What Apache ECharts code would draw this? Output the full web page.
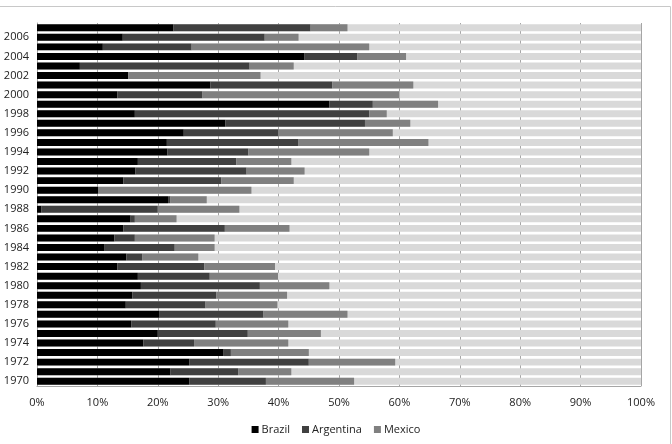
<!DOCTYPE html>
<html><head><meta charset="utf-8">
<script src="https://cdn.jsdelivr.net/npm/echarts@6/dist/echarts.min.js"></script>
<style>html,body{margin:0;padding:0;background:#fff}#c{width:672px;height:444px}</style>
</head><body><div id="c"></div>
<script>
var years = ['1970','1971','1972','1973','1974','1975','1976','1977','1978','1979','1980','1981','1982','1983','1984','1985','1986','1987','1988','1989','1990','1991','1992','1993','1994','1995','1996','1997','1998','1999','2000','2001','2002','2003','2004','2005','2006','2007'];
// shares in percent
var brazil    = [25.2,22.1,25.2,30.9,17.6,20.0,15.6,20.3,14.7,15.8,17.2,16.7,13.3,14.8,11.2,12.8,14.3,15.5,0.7,21.7,10.1,14.3,16.3,16.7,21.6,21.5,24.3,31.2,16.2,48.4,13.3,28.7,15.1,7.1,44.3,10.9,14.2,22.6];
var argentina = [12.7,11.2,19.8,1.2,8.4,14.9,14.0,17.2,13.2,13.9,19.7,11.9,14.4,2.6,11.6,3.4,16.8,0.7,19.3,0.4,0.0,16.2,18.4,16.3,13.4,21.8,15.7,23.1,38.8,7.2,14.1,20.2,0.0,28.1,8.7,14.7,23.5,22.7];
var mexico    = [14.6,8.8,14.3,12.9,15.6,12.1,12.0,13.9,11.9,11.7,11.5,11.3,11.7,9.3,6.6,13.2,10.7,6.9,13.5,6.0,25.4,12.0,9.6,9.1,20.0,21.5,18.9,7.5,2.9,10.8,32.6,13.4,21.9,7.3,8.1,29.4,5.6,6.1];
var xTicks = ['0%','10%','20%','30%','40%','50%','60%','70%','80%','90%','100%'];

var font = 'Open Sans';
var chart = echarts.init(document.getElementById('c'), null, {renderer:'canvas'});
function s(name, data, color, bg){
  var o = {name:name, type:'bar', stack:'total', data:data, barCategoryGap:'27%',
    itemStyle:{color:color}, emphasis:{disabled:true}};
  if(bg){ o.showBackground = true; o.backgroundStyle = {color:'#d9d9d9'}; }
  return o;
}
chart.setOption({
  animation:false,
  textStyle:{fontFamily:font},
  graphic:[{type:'polyline', shape:{points:[[0,6.5],[670.5,6.5],[670.5,444]]}, style:{stroke:'#c8c8c8', fill:null, lineWidth:1}, silent:true}],
  grid:{left:37, right:31, top:23, bottom:58, containLabel:false},
  legend:{bottom:4, left:'center', itemWidth:7, itemHeight:7, itemGap:12, icon:'rect',
    textStyle:{fontFamily:font, fontSize:11, color:'#222', padding:[0,0,0,-2]},
    data:['Brazil','Argentina','Mexico']},
  xAxis:{type:'value', min:0, max:100, interval:10,
    axisLabel:{formatter:function(v){return xTicks[Math.round(v/10)];}, fontFamily:font, fontSize:11, color:'#222', margin:11},
    axisLine:{show:true, lineStyle:{color:'#a6a6a6'}}, axisTick:{show:false},
    splitLine:{show:true, lineStyle:{color:'#a6a6a6', width:1}}},
  yAxis:{type:'category', data:years,
    axisLabel:{interval:1, fontFamily:font, fontSize:11, color:'#222', margin:8},
    axisLine:{show:true, lineStyle:{color:'#a6a6a6'}}, axisTick:{show:false}},
  series:[
    s('Brazil', brazil, '#000000', true),
    s('Argentina', argentina, '#404040'),
    s('Mexico', mexico, '#808080')
  ]
});
</script></body></html>
